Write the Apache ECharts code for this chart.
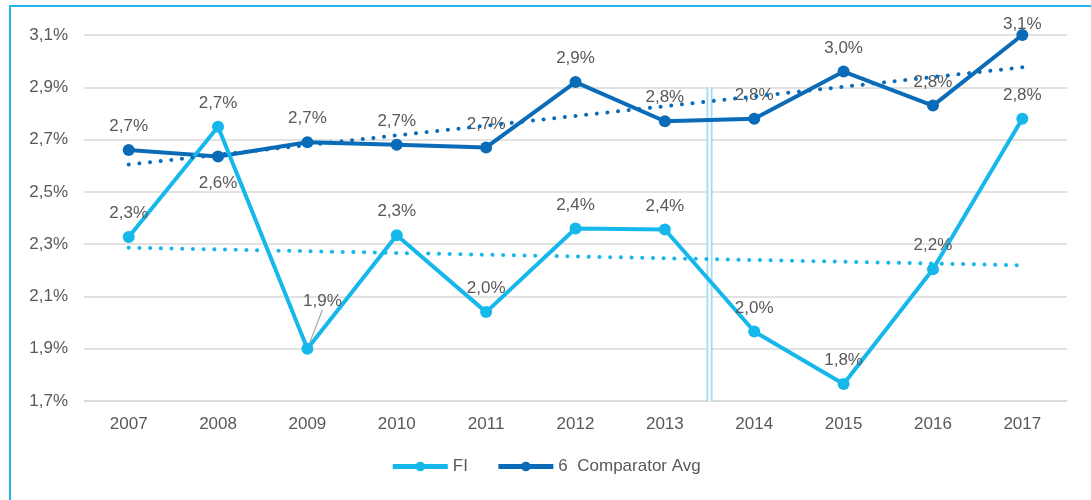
<!DOCTYPE html>
<html>
<head>
<meta charset="utf-8">
<script src="https://cdn.jsdelivr.net/npm/echarts@6/dist/echarts.min.js"></script>
<style>
  html, body { margin: 0; padding: 0; background: #fff; }
  #wrap { position: relative; width: 1091px; height: 500px; overflow: hidden; }
  #frame { position: absolute; left: 9px; top: 5px; width: 1200px; height: 700px;
           border-left: 2px solid #1fb6ec; border-top: 2px solid #1fb6ec; }
  #chart { position: absolute; left: 0; top: 0; width: 1091px; height: 500px; }
</style>
</head>
<body>
<div id="wrap">
  <div id="frame"></div>
  <div id="chart"></div>
</div>
<script>
const years = ['2007','2008','2009','2010','2011','2012','2013','2014','2015','2016','2017'];
const fiValues = [2.327, 2.749, 1.90, 2.334, 2.04, 2.36, 2.356, 1.966, 1.765, 2.204, 2.78];
const compValues = [2.66, 2.635, 2.69, 2.68, 2.67, 2.92, 2.77, 2.78, 2.96, 2.83, 3.10];
const yTicks = { min: 1.7, max: 3.1, interval: 0.2 };
const separatorAt = 6.5;
const separatorRange = [1.7, 2.9];

const FI_COLOR = '#16b8ec';
const COMP_COLOR = '#0a6cb8';
const TEXT = '#595959';
const FONT = 'Liberation Sans, Arial, sans-serif';

function pct(v) { return v.toFixed(1).replace('.', ',') + '%'; }
function trend(vals) {
  const n = vals.length;
  let sx = 0, sy = 0, sxy = 0, sxx = 0;
  vals.forEach((y, x) => { sx += x; sy += y; sxy += x * y; sxx += x * x; });
  const b = (n * sxy - sx * sy) / (n * sxx - sx * sx);
  const a = (sy - b * sx) / n;
  return vals.map((_, x) => a + b * x);
}

const labelBase = { show: true, position: 'top', distance: 9, color: TEXT, fontSize: 17,
                    fontFamily: FONT, formatter: p => pct(p.value) };

const compData = compValues.map((v, i) => {
  if (i === 1) return { value: v, label: { position: 'bottom', distance: 12 } };
  if (i === 10) return { value: v, label: { offset: [0, 13] } };
  return v;
});
const fiData = fiValues.map((v, i) => {
  if (i === 2) return { value: v, labelLine: { show: true } };
  return v;
});

const chart = echarts.init(document.getElementById('chart'), null, { renderer: 'canvas' });
chart.setOption({
  animation: false,
  textStyle: { fontFamily: FONT },
  grid: { left: 84, right: 24, top: 35, bottom: 99 },
  legend: {
    data: ['FI', '6  Comparator Avg'],
    bottom: 20, left: 'center',
    itemWidth: 55, itemHeight: 12, itemGap: 28,
    lineStyle: { width: 5 },
    textStyle: { color: TEXT, fontSize: 17 }
  },
  xAxis: [{
    type: 'category', data: years, boundaryGap: true,
    axisLine: { show: true, lineStyle: { color: '#d9d9d9', width: 1.5 } },
    axisTick: { show: false },
    axisLabel: { color: TEXT, fontSize: 17, margin: 15 }
  }, {
    type: 'value', min: -0.5, max: 10.5, show: false
  }],
  yAxis: {
    type: 'value', min: yTicks.min, max: yTicks.max, interval: yTicks.interval,
    axisLine: { show: false }, axisTick: { show: false },
    axisLabel: { color: TEXT, fontSize: 17, margin: 16, formatter: v => pct(v) },
    splitLine: { lineStyle: { color: '#d9d9d9', width: 1.5 } }
  },
  series: [
    {
      name: 'sep1', type: 'line', xAxisIndex: 1, silent: true, symbol: 'none',
      data: separatorRange.map(y => [separatorAt, y]),
      lineStyle: { color: '#9fdbf5', width: 6 }, z: 1
    },
    {
      name: 'sep2', type: 'line', xAxisIndex: 1, silent: true, symbol: 'none',
      data: separatorRange.map(y => [separatorAt, y]),
      lineStyle: { color: '#ffffff', width: 2.5 }, z: 1
    },
    {
      name: '6  Comparator Avg', type: 'line', data: compData,
      symbol: 'circle', symbolSize: 12,
      itemStyle: { color: COMP_COLOR },
      lineStyle: { color: COMP_COLOR, width: 4 },
      label: labelBase, z: 3
    },
    {
      name: 'FI', type: 'line', data: fiData,
      symbol: 'circle', symbolSize: 12,
      itemStyle: { color: FI_COLOR },
      lineStyle: { color: FI_COLOR, width: 4 },
      label: labelBase,
      labelLayout: p => (p.dataIndex === 2 ? { dx: 15, dy: -24 } : {}),
      labelLine: { show: false, lineStyle: { color: '#a6a6a6', width: 1.2 } },
      z: 4
    },
    {
      name: 'compTrend', type: 'line', data: trend(compValues), symbol: 'none',
      lineStyle: { color: COMP_COLOR, width: 4, type: [0.1, 10.6], cap: 'round' }, z: 5, silent: true
    },
    {
      name: 'fiTrend', type: 'line', data: trend(fiValues), symbol: 'none',
      lineStyle: { color: FI_COLOR, width: 4, type: [0.1, 10.6], cap: 'round' }, z: 5, silent: true
    }
  ]
});
</script>
</body>
</html>
